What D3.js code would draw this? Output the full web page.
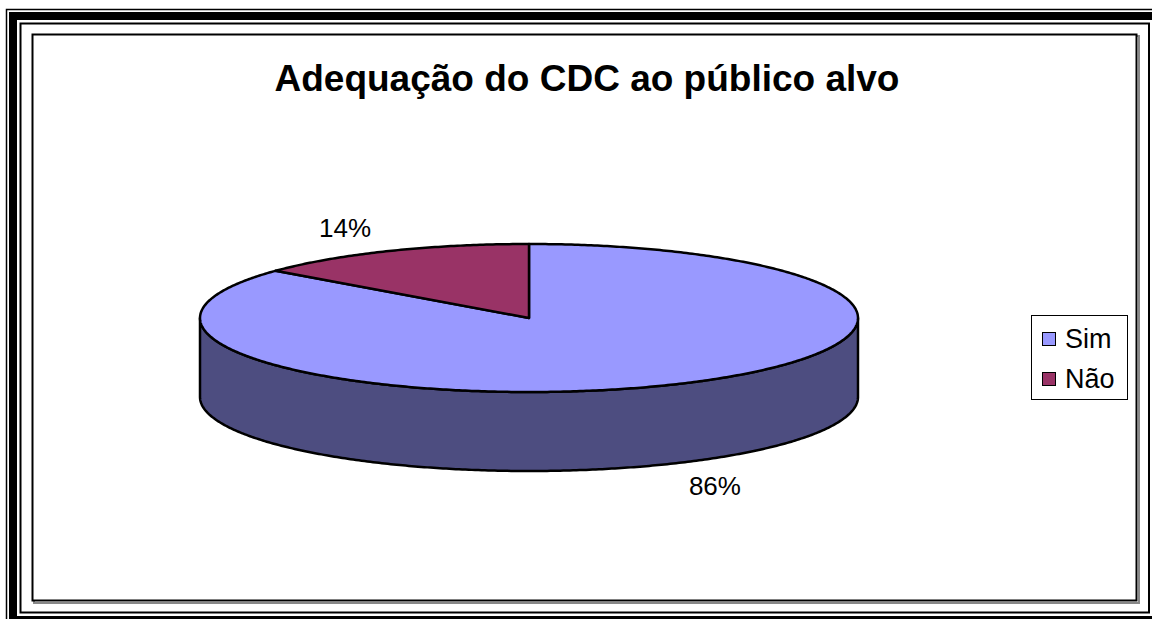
<!DOCTYPE html>
<meta charset='utf-8'>
<style>
  body { margin:0; background:#fff; }
  text { font-family:'Liberation Sans', Arial, sans-serif; }
</style>
<body>
  <div class='container'></div>
  <script src='https://d3js.org/d3.v7.min.js'></script>
  <script>
    var title = 'Adequação do CDC ao público alvo';
    var categories = ['Sim', 'Não'];
    var values = [86, 14];
    var topColors = ['#9999ff', '#993366'];
    var sideColors = ['#4d4d80', '#4d1a33'];

    var width = 1152;
    var height = 619;

    var svg = d3.select('.container').append('svg')
      .attr('width', width)
      .attr('height', height);

    // page border --------------------------------------------------------------
    svg.append('rect').attr('x', 6.5).attr('y', 9.5).attr('width', 1200).attr('height', 700)
      .attr('fill', 'none').attr('stroke', '#000').attr('stroke-width', 1.5);
    svg.append('rect').attr('x', 13).attr('y', 16).attr('width', 1200).attr('height', 604)
      .attr('fill', 'none').attr('stroke', '#000').attr('stroke-width', 8);
    svg.append('rect').attr('x', 20.5).attr('y', 23.5).attr('width', 1128.5).attr('height', 589)
      .attr('fill', 'none').attr('stroke', '#000').attr('stroke-width', 2);

    // chart area with shadow
    svg.append('rect').attr('x', 34).attr('y', 36).attr('width', 1105).attr('height', 567)
      .attr('fill', 'none').attr('stroke', '#888').attr('stroke-width', 2);
    svg.append('rect').attr('x', 32.5).attr('y', 34.5).attr('width', 1104).attr('height', 566)
      .attr('fill', '#fff').attr('stroke', '#000').attr('stroke-width', 2);

    svg.append('text')
      .attr('x', 587).attr('y', 91)
      .attr('text-anchor', 'middle')
      .attr('font-size', 37).attr('font-weight', 'bold')
      .text(title);

    // 3d pie -------------------------------------------------------------------
    var cx = 529, cy = 318, rx = 329, ry = 74, depth = 79;
    var xs = d3.scaleLinear().domain([-1, 1]).range([cx - rx, cx + rx]);
    var ys = d3.scaleLinear().domain([-1, 1]).range([cy + ry, cy - ry]);

    var pie = d3.pie().sort(null).startAngle(0).endAngle(2 * Math.PI);
    var slices = pie(values);

    function pt(a, dy, k) {
      k = k || 1;
      return [cx + (xs(Math.sin(a)) - cx) * k, cy + (ys(Math.cos(a)) - cy) * k + (dy || 0)];
    }
    function arcPts(a0, a1, dy) {
      var n = Math.max(2, Math.ceil(Math.abs(a1 - a0) / 0.01));
      return d3.range(n + 1).map(function(i) { return pt(a0 + (a1 - a0) * i / n, dy); });
    }
    var line = d3.line();

    var sideG = svg.append('g');
    var topG = svg.append('g');

    slices.forEach(function(s, i) {
      // front wall: the part of the rim between 90deg and 270deg
      var a0 = Math.max(s.startAngle, Math.PI / 2);
      var a1 = Math.min(s.endAngle, 3 * Math.PI / 2);
      if (a1 > a0) {
        var pts = arcPts(a0, a1, 0).concat(arcPts(a1, a0, depth));
        sideG.append('path')
          .attr('d', line(pts) + 'Z')
          .attr('fill', sideColors[i])
          .attr('stroke', '#000').attr('stroke-width', 2.5).attr('stroke-linejoin', 'round');
      }
      var top = [[cx, cy]].concat(arcPts(s.startAngle, s.endAngle, 0));
      topG.append('path')
        .attr('d', line(top) + 'Z')
        .attr('fill', topColors[i])
        .attr('stroke', '#000').attr('stroke-width', 2.5).attr('stroke-linejoin', 'round');
    });

    // labels
    slices.forEach(function(s) {
      var mid = (s.startAngle + s.endAngle) / 2;
      var front = Math.cos(mid) < 0;
      var p = pt(mid, front ? depth : 0, 1.32);
      svg.append('text')
        .attr('x', p[0] + 1).attr('y', p[1] + (front ? 1 : -2))
        .attr('dy', '0.35em')
        .attr('text-anchor', 'middle')
        .attr('font-size', 26)
        .text(Math.round(s.value / d3.sum(values) * 100) + '%');
    });

    // legend
    var lg = svg.append('g');
    lg.append('rect').attr('x', 1031.5).attr('y', 315.5).attr('width', 96).attr('height', 84)
      .attr('fill', '#fff').attr('stroke', '#000').attr('stroke-width', 1);
    var ly = d3.scalePoint().domain(categories).range([339, 379]);
    categories.forEach(function(c, i) {
      lg.append('rect').attr('x', 1042.5).attr('y', ly(c) - 6.5).attr('width', 13).attr('height', 13)
        .attr('fill', topColors[i]).attr('stroke', '#000').attr('stroke-width', 1);
      lg.append('text').attr('x', 1065).attr('y', ly(c)).attr('dy', '0.35em')
        .attr('font-size', 27).text(c);
    });
  </script>
</body>
